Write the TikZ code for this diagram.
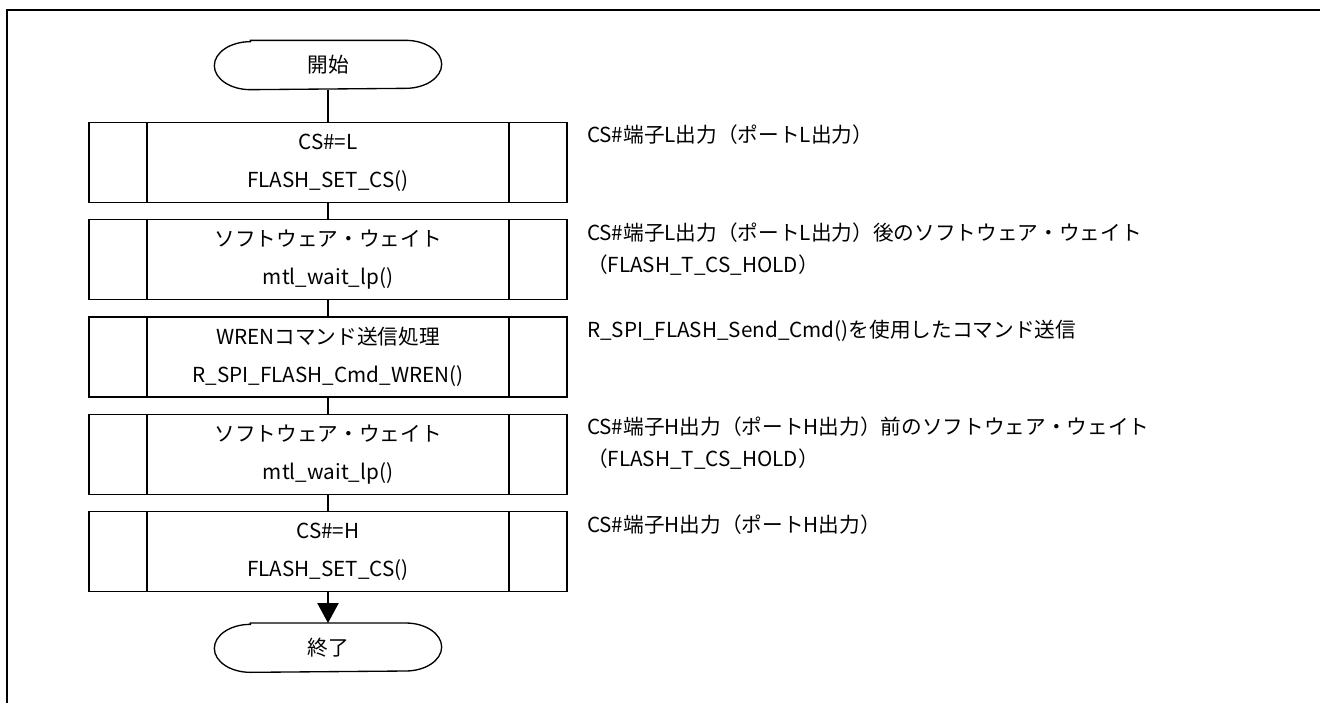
\documentclass[tikz,border=0pt]{standalone}
\usepackage{fontspec}
\setmainfont{Noto Sans CJK JP}
\usetikzlibrary{positioning}
\usetikzlibrary{arrows.meta}

\begin{document}
\begin{tikzpicture}[x=0.75pt,y=0.75pt,-,>={Triangle[width=16pt,length=15pt]},auto,node distance=12pt,
                line width=1pt,
                term node/.style={minimum width=169.5pt,minimum height=36pt,inner sep=0pt,
                  font=\fontsize{15.5pt}{18pt}\selectfont},
                proc node/.style={draw,minimum width=358.5pt,minimum height=60pt,inner sep=0pt,
                  align=center,font=\fontsize{15.5pt}{28.5pt}\selectfont,
                  path picture={\draw
                    ([xshift=43.5pt]path picture bounding box.north west) -- ([xshift=43.5pt]path picture bounding box.south west)
                    ([xshift=-43.5pt]path picture bounding box.north east) -- ([xshift=-43.5pt]path picture bounding box.south east);}},
                note node/.style={anchor=north west,inner sep=0pt,align=left,
                  font=\fontsize{15.5pt}{24pt}\selectfont}]

  \useasboundingbox (0,0) rectangle (1320,-703);
  \draw[line width=2pt] (7,-703) -- (7,-10) -- (1320,-10);

  \node[term node] (start) at (328,-65) {開始};
  \node[proc node] (1) [below=24pt of start] {CS\#=L\\FLASH\_SET\_CS()};
  \node[proc node] (2) [below=of 1] {ソフトウェア・ウェイト\\mtl\_wait\_lp()};
  \node[proc node] (3) [below=of 2] {WRENコマンド送信処理\\R\_SPI\_FLASH\_Cmd\_WREN()};
  \node[proc node] (4) [below=of 3] {ソフトウェア・ウェイト\\mtl\_wait\_lp()};
  \node[proc node] (5) [below=of 4] {CS\#=H\\FLASH\_SET\_CS()};
  \node[term node] (end) [below=23pt of 5] {終了};

  % terminal outlines
  \foreach \t in {start,end}
    \draw ([xshift=27pt]\t.north west) -- ([xshift=-27pt]\t.north east)
      arc[start angle=90,end angle=-90,x radius=27pt,y radius=18pt]
      -- ([xshift=27pt]\t.south west)
      arc[start angle=270,end angle=90,x radius=27pt,y radius=18pt] -- cycle;

  \node[note node] (c1) at ([xshift=14pt,yshift=-2pt]1.north east) {CS\#端子L出力（ポートL出力）};
  \node[note node] (c2) at ([xshift=14pt,yshift=-2pt]2.north east) {CS\#端子L出力（ポートL出力）後のソフトウェア・ウェイト\\（FLASH\_T\_CS\_HOLD）};
  \node[note node] (c3) at ([xshift=14pt,yshift=-2pt]3.north east) {R\_SPI\_FLASH\_Send\_Cmd()を使用したコマンド送信};
  \node[note node] (c4) at ([xshift=14pt,yshift=-2pt]4.north east) {CS\#端子H出力（ポートH出力）前のソフトウェア・ウェイト\\（FLASH\_T\_CS\_HOLD）};
  \node[note node] (c5) at ([xshift=14pt,yshift=-2pt]5.north east) {CS\#端子H出力（ポートH出力）};

  \path
    (start) edge (1)
    (1) edge (2)
    (2) edge (3)
    (3) edge (4)
    (4) edge (5)
    (5) edge [->] (end);

\end{tikzpicture}
\end{document}
